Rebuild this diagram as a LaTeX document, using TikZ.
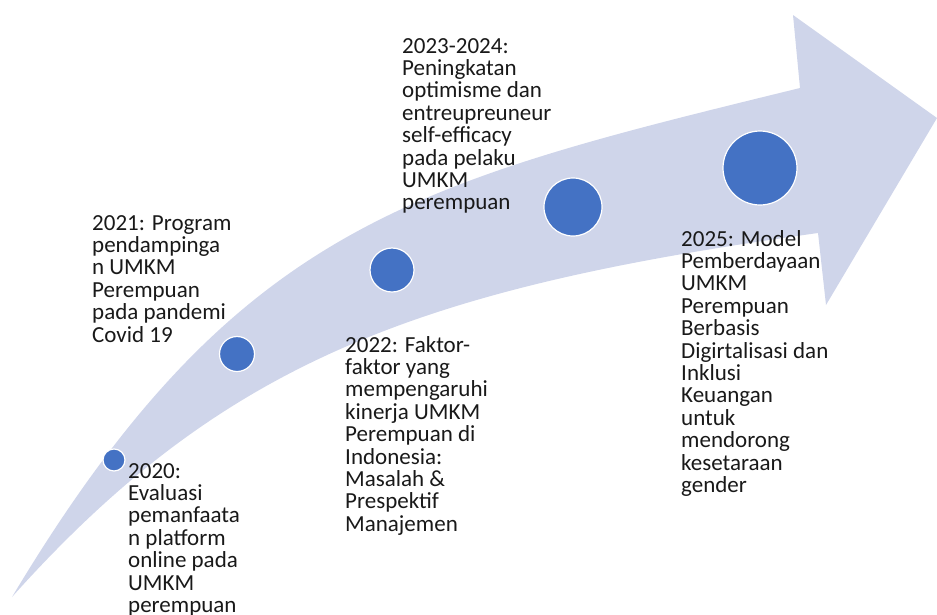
\documentclass[tikz,border=0pt]{standalone}
\usepackage{fontspec}
\setmainfont{Carlito}
\definecolor{bandblue}{HTML}{CFD5EA}
\definecolor{dotblue}{HTML}{4472C4}
\begin{document}
\begin{tikzpicture}[x=1pt,y=-1pt,
  dot/.style={circle, fill=dotblue, draw=white, line width=1.2pt, inner sep=0pt},
  lbl/.style={anchor=base west, align=left, inner sep=0pt, text=black!90, font=\fontsize{23}{22.4}\selectfont}]
\useasboundingbox (0,0) rectangle (937,614);
\fill[bandblue] (12,597) .. controls (235,225) and (412,183) .. (800,88) -- (793,15) -- (937,118) -- (826,305) -- (818,233) .. controls (422,288) and (225,359) .. (12,597) -- cycle;
\node[dot, minimum size=22pt] (dot0) at (114,460){};
\node[dot, minimum size=35pt] (dot1) at (237,354){};
\node[dot, minimum size=44pt] (dot2) at (392,270){};
\node[dot, minimum size=58pt] (dot3) at (573,207){};
\node[dot, minimum size=74pt] (dot4) at (760,168){};
\node[lbl] (txt0) at (128,612.4){2020:\\Evaluasi\\pemanfaata\\n platform\\online pada\\UMKM\\perempuan};
\node[lbl] (txt1) at (92,342){2021: Program\\pendampinga\\n UMKM\\Perempuan\\pada pandemi\\Covid 19};
\node[lbl] (txt2) at (345,531.2){2022: Faktor-\\faktor yang\\mempengaruhi\\kinerja UMKM\\Perempuan di\\Indonesia:\\Masalah \&\\Prespektif\\Manajemen};
\node[lbl] (txt3) at (402,209.8){2023-2024:\\Peningkatan\\optimisme dan\\entreupreuneur\\self-efficacy\\pada pelaku\\UMKM\\perempuan};
\node[lbl] (txt4) at (681,492.4){2025: Model\\Pemberdayaan\\UMKM\\Perempuan\\Berbasis\\Digirtalisasi dan\\Inklusi\\Keuangan\\untuk\\mendorong\\kesetaraan\\gender};
\end{tikzpicture}
\end{document}
